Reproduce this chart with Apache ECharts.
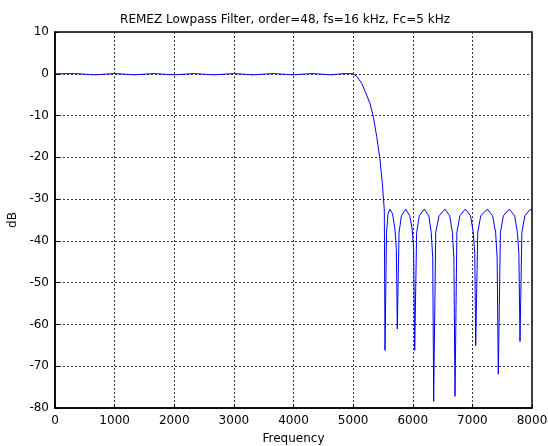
<!DOCTYPE html>
<html>
<head>
<meta charset="utf-8">
<script src="https://cdn.jsdelivr.net/npm/echarts@6/dist/echarts.min.js"></script>
<style>
  html, body { margin: 0; padding: 0; background: #fff; }
  #chart { width: 548px; height: 446px; }
</style>
</head>
<body>
<div id="chart"></div>
<script>
// frequency response (Hz, dB)
var freq = [
  0, 330, 670, 1000, 1325, 1660, 1996, 2330, 2667, 3000, 3321, 3660, 3992, 4310, 4629, 4850, 4993,
  5060, 5144, 5210, 5283, 5339, 5395, 5451, 5490, 5523, 5535,
  5560, 5585, 5618, 5660, 5700, 5725, 5741,
  5770, 5810, 5882, 5950, 5990, 6015, 6033,
  6065, 6110, 6194, 6270, 6310, 6335, 6351,
  6385, 6440, 6541, 6620, 6665, 6690, 6709,
  6740, 6790, 6881, 6970, 7015, 7040, 7056,
  7090, 7140, 7250, 7340, 7390, 7415, 7435,
  7470, 7520, 7619, 7710, 7755, 7780, 7799,
  7830, 7880, 7960, 8000
];
var dB = [
  0, 0.05, -0.25, 0.05, -0.25, 0.05, -0.25, 0.05, -0.25, 0.05, -0.25, 0.05, -0.25, 0.05, -0.25, 0.05, 0,
  -0.6, -2.3, -4.5, -7.1, -10.3, -15, -20.6, -26.2, -32.6, -66.2,
  -38, -33.5, -32.4, -33.5, -37, -42, -61.1,
  -38, -34, -32.4, -34, -37, -42, -66.2,
  -38, -34, -32.4, -34, -38, -44, -78.4,
  -38, -34, -32.4, -34, -38, -44, -77.2,
  -38, -34, -32.4, -34, -38, -43, -65.1,
  -38, -34, -32.4, -34, -38, -44, -71.9,
  -38, -34, -32.4, -34, -38, -43, -64.1,
  -38, -34, -32.6, -32.4
];
var xTicks = [0, 8000, 1000];
var yTicks = [-80, 10, 10];

var pts = freq.map(function(f, i) { return [f, dB[i]]; });
var font = 'DejaVu Sans, Liberation Sans, sans-serif';

var chart = echarts.init(document.getElementById('chart'));
chart.setOption({
  animation: false,
  backgroundColor: '#fff',
  title: {
    text: 'REMEZ Lowpass Filter, order=48, fs=16 kHz, Fc=5 kHz',
    left: 280,
    textAlign: 'center',
    top: 9,
    textStyle: { fontFamily: font, fontSize: 12, fontWeight: 'normal', color: '#000' }
  },
  grid: {
    left: 55, right: 16, top: 32, bottom: 38,
    containLabel: false, outerBoundsMode: 'none',
    show: true, borderColor: '#000', borderWidth: 1.5
  },
  xAxis: {
    type: 'value',
    min: xTicks[0], max: xTicks[1], interval: xTicks[2],
    name: 'Frequency', nameLocation: 'middle', nameGap: 25,
    nameTextStyle: { fontFamily: font, fontSize: 12, color: '#000' },
    axisLine: { onZero: false, lineStyle: { color: '#000', width: 1.5 } },
    axisTick: { inside: true, length: 4, lineStyle: { color: '#000' } },
    axisLabel: { fontFamily: font, fontSize: 12, color: '#000', margin: 7,
      formatter: function(v) { return String(v); } },
    splitLine: { show: true, lineStyle: { color: '#333', width: 1, type: [2, 2] } }
  },
  yAxis: {
    type: 'value',
    min: yTicks[0], max: yTicks[1], interval: yTicks[2],
    name: 'dB', nameLocation: 'middle', nameGap: 34, nameRotate: 90,
    nameTextStyle: { fontFamily: font, fontSize: 12, color: '#000' },
    axisLine: { show: true, onZero: false, lineStyle: { color: '#000', width: 1.5 } },
    axisTick: { show: true, inside: true, length: 4, lineStyle: { color: '#000' } },
    axisLabel: { fontFamily: font, fontSize: 12, color: '#000', margin: 6 },
    splitLine: { show: true, lineStyle: { color: '#333', width: 1, type: [2, 2] } }
  },
  series: [{
    type: 'line',
    data: pts,
    showSymbol: false,
    symbol: 'none',
    lineStyle: { color: '#0000ff', width: 1 },
    clip: true
  }]
});
</script>
</body>
</html>
